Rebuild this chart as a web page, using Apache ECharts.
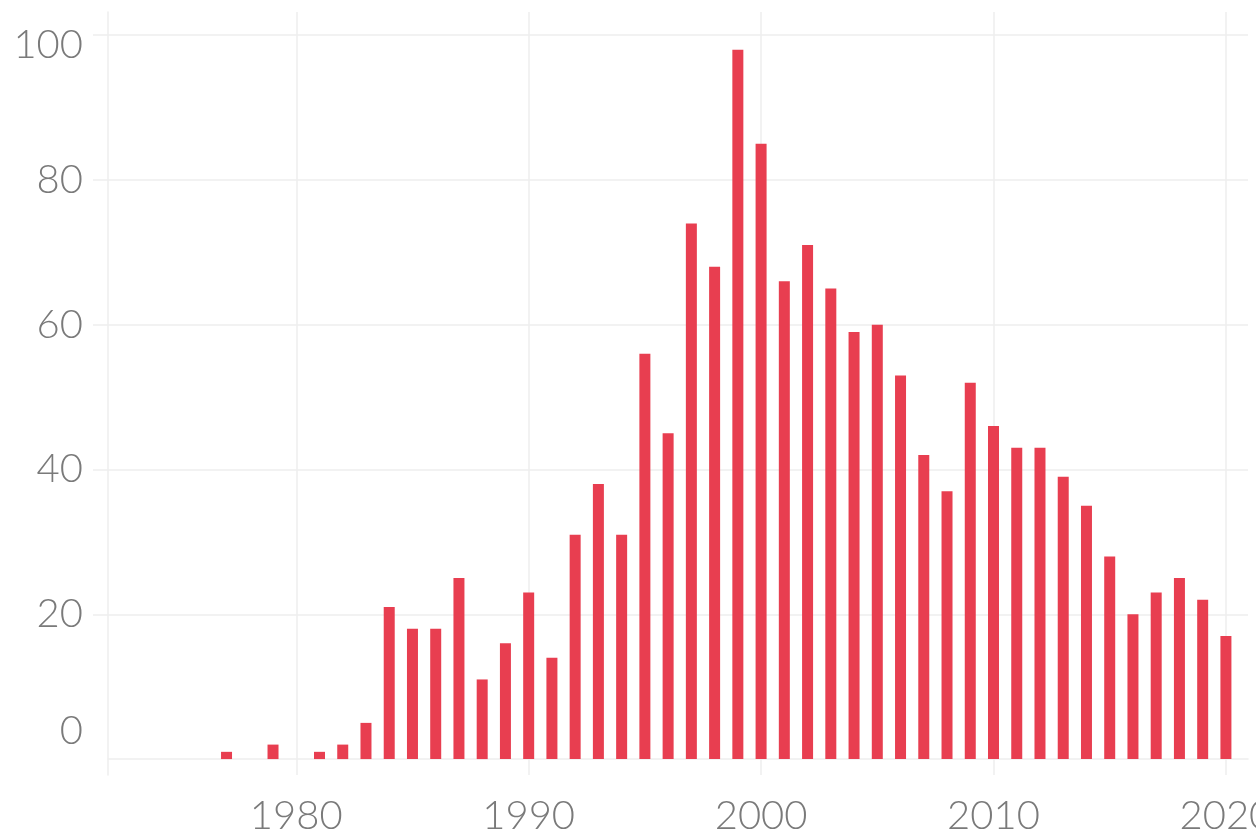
<!DOCTYPE html>
<html>
<head>
<meta charset="utf-8">
<script src="https://cdn.jsdelivr.net/npm/echarts@6/dist/echarts.min.js"></script>
<style>
  html, body { margin: 0; padding: 0; background: #fff; }
  #chart { width: 1256px; height: 835px; }
</style>
</head>
<body>
<div id="chart"></div>
<script>
// years with at least one entry, and the count for each year
const years = [1977, 1979, 1981, 1982, 1983, 1984, 1985, 1986, 1987, 1988, 1989,
  1990, 1991, 1992, 1993, 1994, 1995, 1996, 1997, 1998, 1999,
  2000, 2001, 2002, 2003, 2004, 2005, 2006, 2007, 2008, 2009,
  2010, 2011, 2012, 2013, 2014, 2015, 2016, 2017, 2018, 2019, 2020];
const counts = [1, 2, 1, 2, 5, 21, 18, 18, 25, 11, 16,
  23, 14, 31, 38, 31, 56, 45, 74, 68, 98,
  85, 66, 71, 65, 59, 60, 53, 42, 37, 52,
  46, 43, 43, 39, 35, 28, 20, 23, 25, 22, 17];
const xTicks = [1980, 1990, 2000, 2010, 2020];
const yLabels = [0, 20, 40, 60, 80, 100];
const yTicks = [20, 40, 60, 80, 100];

const gridColor = '#eeeeee';
const textColor = '#7a7a7a';
const barColor = '#e83e50';

let myChart = echarts.init(document.getElementById('chart'));
myChart.setOption({
  animation: false,
  textStyle: { fontFamily: 'Lato', fontWeight: 300 },
  grid: { left: 108, right: 8, top: 12, bottom: 60, outerBoundsMode: 'none', containLabel: false },
  xAxis: {
    type: 'value',
    min: 1971.9,
    max: 2020.95,
    axisLine: { show: true, onZero: true, lineStyle: { color: gridColor, width: 1.5 } },
    axisTick: { show: false, customValues: xTicks },
    axisLabel: {
      customValues: xTicks,
      color: textColor,
      fontSize: 40,
      fontFamily: 'Lato',
      fontWeight: 300,
      margin: 21,
      formatter: v => String(v)
    },
    splitLine: { show: true, lineStyle: { color: gridColor, width: 1.5 } }
  },
  yAxis: {
    type: 'value',
    min: -2.2,
    max: 103.2,
    axisLine: { show: true, lineStyle: { color: gridColor, width: 1.5 } },
    axisTick: { show: true, length: 15, customValues: yTicks, lineStyle: { color: gridColor, width: 1.5 } },
    axisLabel: {
      customValues: yLabels,
      color: textColor,
      fontSize: 40,
      fontFamily: 'Lato',
      fontWeight: 300,
      margin: 25,
      formatter: function (v) {
        if (v === 0) return '{low|0}';
        if (v === 100) return '{top|100}';
        return String(v);
      },
      rich: {
        low: { fontSize: 40, fontFamily: 'Lato', fontWeight: 300, color: textColor, padding: [0, 0, 56, 0] },
        top: { fontSize: 40, fontFamily: 'Lato', fontWeight: 300, color: textColor, padding: [20, 0, 0, 0] }
      }
    },
    splitLine: { show: true, lineStyle: { color: gridColor, width: 1.5 } }
  },
  series: [{
    type: 'bar',
    barWidth: 11,
    itemStyle: { color: barColor },
    data: years.map((y, i) => [y, counts[i]])
  }]
});
</script>
</body>
</html>
